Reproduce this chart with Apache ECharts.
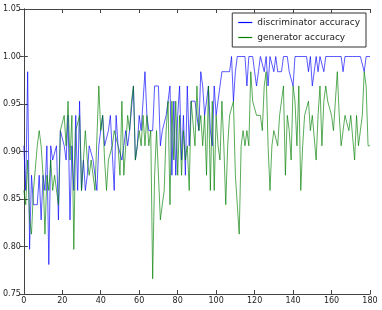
<!DOCTYPE html>
<html><head><meta charset="utf-8">
<script src="https://cdn.jsdelivr.net/npm/echarts@6/dist/echarts.min.js"></script>
<style>html,body{margin:0;padding:0;background:#fff}#c{width:382px;height:310px}</style>
</head><body><div id="c"></div>
<script>
const discAcc = [
.906,.859,.984,.797,.875,.844,.844,.844,.875,.828,
.875,.859,.906,.781,.906,.891,.891,.906,.828,.922,
.922,.906,.891,.938,.828,.906,.859,.938,.859,.953,
.859,.891,.859,.875,.906,.906,.891,.891,.859,.906,
.922,.938,.906,.906,.922,.938,.938,.859,.938,.906,
.906,.891,.906,.922,.906,.922,.922,.969,.891,.906,
.938,.922,.953,.984,.938,.922,.922,.922,.969,.969,
.969,.906,.922,.922,.938,.953,.969,.875,.953,.875,
.938,.969,.891,.938,.875,.969,.906,.953,.953,.953,
.953,.922,.984,.969,.938,.953,.969,.922,.906,.969,
.938,.938,.969,.984,.984,.984,.984,.984,1,.953,
.984,1,1,1,1,1,.969,1,1,1,
.984,.969,.984,1,1,.984,1,.969,1,1,
.984,1,.984,.984,.984,1,1,1,.984,.984,
.969,1,1,1,1,1,1,1,.984,1,
.969,.984,1,.984,1,1,.984,1,1,1,
1,1,1,1,1,1,.984,1,1,1,
1,1,1,1,1,1,1,.984,1,1,1
];
const genAcc = [
.859,.844,.891,.828,.813,.859,.859,.906,.922,.906,
.875,.813,.875,.859,.891,.859,.875,.875,.844,.922,
.922,.938,.906,.953,.891,.938,.797,.922,.922,.938,
.859,.891,.922,.891,.875,.891,.891,.859,.859,.969,
.922,.938,.891,.859,.891,.891,.906,.922,.922,.906,
.875,.953,.875,.906,.938,.922,.953,.969,.891,.906,
.922,.906,.938,.906,.938,.906,.922,.766,.875,.922,
.922,.828,.844,.859,.922,.953,.844,.953,.891,.953,
.875,.938,.875,.922,.891,.906,.859,.953,.953,.906,
.969,.922,.938,.906,.938,.875,.969,.859,.953,.859,
.938,.906,.891,.953,.906,.844,.906,.938,.938,.953,
.875,.844,.813,.906,.922,.906,.922,.906,.984,.953,
.953,.938,.938,.938,.922,.969,.984,.906,.859,.906,
.922,.922,.906,.938,.938,.969,.875,.938,.922,.891,
.969,.953,.906,.969,.859,.906,.938,.938,.953,.922,
.938,.938,.891,.938,.969,.906,.953,.969,.953,.953,
.938,.922,.953,.984,.938,.906,.922,.938,.938,.922,
.938,.938,.891,.938,.906,.922,.938,.984,.969,.906,.906
];
const seriesNames = ['discriminator accuracy', 'generator accuracy'];
const xTicks = [0,20,40,60,80,100,120,140,160,180];
const yTicks = [0.75,0.80,0.85,0.90,0.95,1.00,1.05];

const toPairs = a => a.map((v,i)=>[i,v]);
const chart = echarts.init(document.getElementById('c'), null, {renderer:'canvas'});
const axisCol = '#444';
const lbl = {fontFamily:'DejaVu Sans', fontSize:8, color:'#222'};
chart.setOption({
  animation:false,
  backgroundColor:'#fff',
  grid:{left:23, right:12, top:9, bottom:16, containLabel:false},
  legend:{
    data:seriesNames, right:16, top:13, orient:'vertical',
    borderColor:'#333', borderWidth:1, borderRadius:0, padding:[5,6,5,6],
    itemWidth:14, itemHeight:1.2, itemGap:6, icon:'rect',
    textStyle:{fontFamily:'DejaVu Sans', fontSize:9, color:'#222'}
  },
  xAxis:[
    {type:'value', min:xTicks[0], max:xTicks[xTicks.length-1], interval:20,
     axisLine:{lineStyle:{color:axisCol}}, axisTick:{inside:true, length:4, lineStyle:{color:axisCol}},
     splitLine:{show:false}, axisLabel:{...lbl, margin:3}},
    {type:'value', position:'top', min:0, max:180, interval:20,
     axisLine:{lineStyle:{color:axisCol}}, axisTick:{inside:true, length:4, lineStyle:{color:axisCol}},
     splitLine:{show:false}, axisLabel:{show:false}}
  ],
  yAxis:[
    {type:'value', min:yTicks[0], max:yTicks[yTicks.length-1], interval:0.05,
     axisLine:{show:true, lineStyle:{color:axisCol}}, axisTick:{show:true, inside:true, length:4, lineStyle:{color:axisCol}},
     splitLine:{show:false}, axisLabel:{...lbl, margin:3, formatter:v=>v.toFixed(2)}},
    {type:'value', position:'right', min:0.75, max:1.05, interval:0.05,
     axisLine:{show:true, lineStyle:{color:axisCol}}, axisTick:{show:true, inside:true, length:4, lineStyle:{color:axisCol}},
     splitLine:{show:false}, axisLabel:{show:false}}
  ],
  series:[
    {name:seriesNames[0], type:'line', data:toPairs(discAcc), showSymbol:false, symbol:'none',
     lineStyle:{color:'#0000ff', width:1, opacity:0.65}, itemStyle:{color:'#0000ff'}},
    {name:seriesNames[1], type:'line', data:toPairs(genAcc), showSymbol:false, symbol:'none',
     lineStyle:{color:'#008000', width:1, opacity:0.65}, itemStyle:{color:'#008000'}}
  ]
});
</script></body></html>
